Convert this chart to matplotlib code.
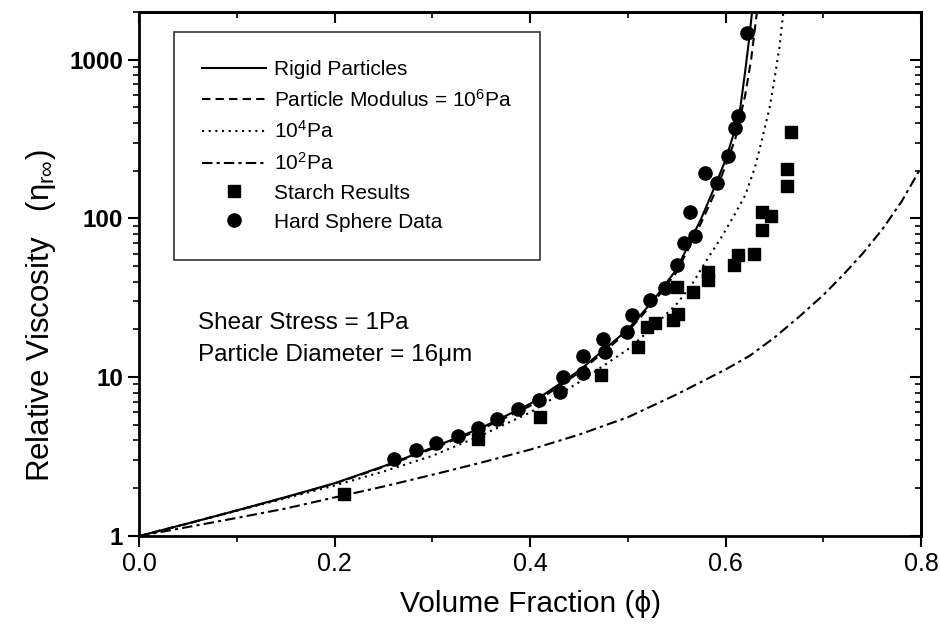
import matplotlib
matplotlib.use("Agg")
import matplotlib.pyplot as plt
from matplotlib.ticker import FixedLocator, MultipleLocator, NullFormatter

plt.rcParams["font.family"] = ["Liberation Sans", "DejaVu Sans"]
plt.rcParams["mathtext.fontset"] = "custom"
plt.rcParams["mathtext.rm"] = "Liberation Sans"
plt.rcParams["mathtext.it"] = "Liberation Sans"

# Model curves
rigid_phi = [0.0, 0.05, 0.1, 0.15, 0.2, 0.25, 0.3, 0.35, 0.4, 0.45, 0.475, 0.5, 0.525,
             0.55, 0.575, 0.59, 0.6, 0.61, 0.615, 0.62, 0.624, 0.627]
rigid_eta = [1.0, 1.2, 1.45, 1.76, 2.15, 2.75, 3.6, 4.8, 6.8, 11.0, 14.8, 20, 30,
             48, 100, 165, 235, 370, 500, 850, 1350, 2000]

mod6_phi = [0.0, 0.05, 0.1, 0.15, 0.2, 0.25, 0.3, 0.35, 0.4, 0.45, 0.475, 0.5, 0.525,
            0.55, 0.575, 0.59, 0.6, 0.61, 0.62, 0.626, 0.632]
mod6_eta = [1.0, 1.2, 1.45, 1.75, 2.14, 2.72, 3.55, 4.7, 6.6, 10.7, 14.4, 19.4, 29,
            46, 94, 150, 215, 320, 600, 1000, 2000]

mod4_phi = [0.0, 0.05, 0.1, 0.15, 0.2, 0.25, 0.3, 0.35, 0.4, 0.45, 0.5, 0.525, 0.55,
            0.565, 0.58, 0.595, 0.61, 0.62, 0.63, 0.638, 0.645, 0.65, 0.655, 0.659]
mod4_eta = [1.0, 1.2, 1.44, 1.73, 2.08, 2.55, 3.2, 4.3, 6.0, 9.3, 15, 20.5, 29,
            38, 54, 75, 108, 140, 210, 330, 500, 760, 1200, 2000]

mod2_phi = [0.0, 0.05, 0.1, 0.15, 0.2, 0.25, 0.3, 0.35, 0.4, 0.45, 0.5, 0.55, 0.6,
            0.625, 0.65, 0.675, 0.7, 0.72, 0.74, 0.76, 0.78, 0.8]
mod2_eta = [1.0, 1.14, 1.3, 1.49, 1.75, 2.05, 2.43, 2.9, 3.5, 4.35, 5.6, 7.8, 11.2,
            13.7, 17.8, 24, 33, 44, 60, 85, 128, 210]

# Measured points
starch_phi = [0.21, 0.347, 0.41, 0.472, 0.51, 0.52, 0.528, 0.546, 0.551, 0.55, 0.567,
              0.582, 0.582, 0.608, 0.613, 0.629, 0.637, 0.637, 0.646, 0.663, 0.663, 0.667]
starch_eta = [1.84, 4.1, 5.6, 10.3, 15.4, 20.6, 21.9, 22.8, 25, 36.8, 34.2,
              40.7, 45.7, 50.6, 58.5, 60, 85, 109, 104, 161, 206, 352]

hs_phi = [0.261, 0.283, 0.304, 0.326, 0.347, 0.366, 0.388, 0.409, 0.431, 0.434, 0.454,
          0.454, 0.475, 0.477, 0.499, 0.504, 0.523, 0.538, 0.55, 0.557, 0.563, 0.569,
          0.579, 0.591, 0.602, 0.61, 0.613, 0.622]
hs_eta = [3.05, 3.47, 3.85, 4.26, 4.78, 5.44, 6.29, 7.17, 8.05, 10.1, 13.7,
          10.6, 17.3, 14.4, 19.2, 24.5, 30.5, 36.3, 50.6, 69.6, 109, 78,
          192, 168, 249, 373, 444, 1480]

fig = plt.figure(figsize=(9.4, 6.24), dpi=100)
ax = fig.add_axes([0.148, 0.141, 0.832, 0.840])

ax.plot(rigid_phi, rigid_eta, color="black", lw=1.5, ls="-", label="Rigid Particles")
ax.plot(mod6_phi, mod6_eta, color="black", lw=1.5, ls=(0, (4, 2.5)),
        label=r"Particle Modulus = 10$^{\mathregular{6}}$Pa")
ax.plot(mod4_phi, mod4_eta, color="black", lw=1.5, ls=(0, (1, 2.2)),
        label=r"10$^{\mathregular{4}}$Pa")
ax.plot(mod2_phi, mod2_eta, color="black", lw=1.5, ls=(0, (5, 2, 1.5, 2)),
        label=r"10$^{\mathregular{2}}$Pa")
ax.plot(starch_phi, starch_eta, ls="none", marker="s", ms=8.5, color="black",
        label="Starch Results")
ax.plot(hs_phi, hs_eta, ls="none", marker="o", ms=9.5, color="black",
        label="Hard Sphere Data")

ax.set_yscale("log")
ax.set_xlim(0, 0.8)
ax.set_ylim(1, 2000)

ax.xaxis.set_major_locator(MultipleLocator(0.2))
ax.xaxis.set_minor_locator(MultipleLocator(0.1))
ax.yaxis.set_major_locator(FixedLocator([1, 10, 100, 1000]))
ax.set_yticklabels(["1", "10", "100", "1000"], fontsize=17.5, fontweight="bold")
ax.set_xticks([0.0, 0.2, 0.4, 0.6, 0.8])
ax.set_xticklabels(["0.0", "0.2", "0.4", "0.6", "0.8"], fontsize=18,
                   family=["Liberation Sans Narrow", "Liberation Sans"])
ax.yaxis.set_minor_formatter(NullFormatter())

ax.tick_params(which="major", direction="out", length=8, width=1.5)
ax.tick_params(which="minor", direction="out", length=4.5, width=1.2)
for s in ax.spines.values():
    s.set_linewidth(2)

# mirrored ticks on top and right pointing inward
top = ax.secondary_xaxis("top")
top.xaxis.set_major_locator(MultipleLocator(0.2))
top.xaxis.set_minor_locator(MultipleLocator(0.1))
top.tick_params(which="major", direction="in", length=8, width=1.5, labeltop=False)
top.tick_params(which="minor", direction="in", length=4.5, width=1.2)
top.spines["top"].set_linewidth(2)
right = ax.secondary_yaxis("right")
right.tick_params(which="major", direction="in", length=8, width=1.5, labelright=False)
right.tick_params(which="minor", direction="in", length=4.5, width=1.2, labelright=False)
right.spines["right"].set_linewidth(2)

ax.set_xlabel("Volume Fraction (ϕ)", fontsize=21.5, labelpad=10)
ax.set_ylabel(r"Relative Viscosity   ($\eta_{r\infty}$)", fontsize=22.5)
ax.yaxis.set_label_coords(-0.104, 0.42)

leg = ax.legend(loc="upper left", bbox_to_anchor=(0.045, 0.962), borderaxespad=0,
                fontsize=15, frameon=True, fancybox=False, edgecolor="black",
                handlelength=3.05, handletextpad=0.4, labelspacing=0.47,
                borderpad=1.35)
leg.get_frame().set_linewidth(1.2)

ax.text(0.075, 0.406, "Shear Stress = 1Pa", transform=ax.transAxes, fontsize=17.5,
        va="center")
ax.text(0.075, 0.345, "Particle Diameter = 16μm", transform=ax.transAxes,
        fontsize=17.5, va="center")

fig.savefig("out.png", dpi=100)
